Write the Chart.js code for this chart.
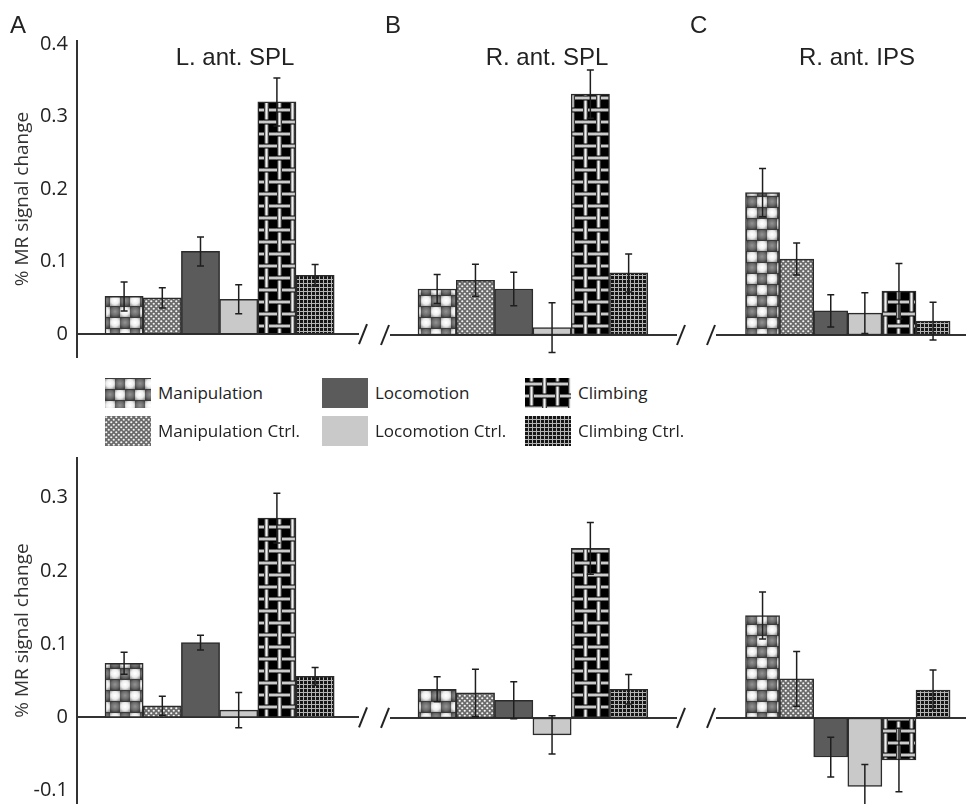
<!DOCTYPE html>
<html>
<head>
<title>MR signal change</title>
<script src="https://cdn.jsdelivr.net/npm/chart.js"></script>
<style>
  body { margin: 0; width: 966px; height: 804px; overflow: hidden; background: #fff; position: relative; color: #222; }
  canvas, .txt { position: absolute; }
  .head { font: 24px "Liberation Sans", Arial, sans-serif; line-height: 24px; white-space: nowrap; }
  .title { width: 300px; text-align: center; }
  .leg { font: 17px "Open Sans", sans-serif; line-height: 30px; height: 30px; white-space: nowrap; }
</style>
</head>
<body>
<script>
Chart.defaults.font.family = '"Open Sans", sans-serif';
Chart.defaults.color = '#222';

const conditions = ['Manipulation', 'Manipulation Ctrl.', 'Locomotion', 'Locomotion Ctrl.', 'Climbing', 'Climbing Ctrl.'];
const regions = ['L. ant. SPL', 'R. ant. SPL', 'R. ant. IPS'];
const panelLetters = ['A', 'B', 'C'];
const ticksTop = [0, 0.1, 0.2, 0.3, 0.4];
const ticksBottom = [-0.1, 0, 0.1, 0.2, 0.3];

// upper row
const lSplTop = [0.052, 0.050, 0.114, 0.048, 0.320, 0.081];
const lSplTopErr = [0.020, 0.014, 0.020, 0.020, 0.033, 0.015];
const rSplTop = [0.063, 0.075, 0.063, 0.010, 0.330, 0.085];
const rSplTopErr = [0.020, 0.022, 0.023, 0.034, 0.033, 0.026];
const rIpsTop = [0.195, 0.104, 0.033, 0.030, 0.060, 0.019];
const rIpsTopErr = [0.033, 0.022, 0.022, 0.028, 0.038, 0.026];

// lower row
const lSplBottom = [0.074, 0.016, 0.102, 0.010, 0.272, 0.056];
const lSplBottomErr = [0.015, 0.013, 0.010, 0.024, 0.034, 0.012];
const rSplBottom = [0.039, 0.034, 0.024, -0.023, 0.230, 0.039];
const rSplBottomErr = [0.017, 0.032, 0.025, 0.026, 0.035, 0.020];
const rIpsBottom = [0.139, 0.053, -0.053, -0.093, -0.057, 0.038];
const rIpsBottomErr = [0.032, 0.037, 0.027, 0.030, 0.043, 0.027];

// layout (pixels)
const cols = [
  { left: 77, right: 358, barLeft: 105, barWidth: 38.2, breakL: false, breakR: true },
  { left: 391, right: 676, barLeft: 418, barWidth: 38.3, breakL: true, breakR: true },
  { left: 717, right: 966, barLeft: 745.5, barWidth: 34.1, breakL: true, breakR: false }
];
const rows = [
  { top: 40, bottom: 358, min: -0.0315, max: 0.404, ticks: ticksTop },
  { top: 457, bottom: 804, min: -0.1167, max: 0.354, ticks: ticksBottom }
];

function tile(w, h, draw) {
  const c = document.createElement('canvas');
  c.width = w; c.height = h;
  draw(c.getContext('2d'));
  return c.getContext('2d').createPattern(c, 'repeat');
}

const manipPattern = tile(20, 22, g => {
  g.fillStyle = '#3c3c3c'; g.fillRect(0, 0, 20, 22);
  for (let r = 0; r < 2; r++) for (let k = 0; k < 2; k++) {
    const light = (r + k) % 2 === 0;
    const x = k * 10, y = r * 11;
    const gr = g.createRadialGradient(x + 5, y + 5.5, 0.5, x + 5, y + 5.5, 6.5);
    if (light) { gr.addColorStop(0, '#ffffff'); gr.addColorStop(0.55, '#ececec'); gr.addColorStop(1, '#9a9a9a'); }
    else { gr.addColorStop(0, '#8e8e8e'); gr.addColorStop(0.55, '#6c6c6c'); gr.addColorStop(1, '#3e3e3e'); }
    g.fillStyle = gr; g.fillRect(x, y + 1, 10, 10);
  }
});

const manipCtrlPattern = tile(5, 5, g => {
  g.fillStyle = '#6a6a6a'; g.fillRect(0, 0, 5, 5);
  g.fillStyle = '#f4f4f4';
  [[1.25, 1.25], [3.75, 3.75]].forEach(([x, y]) => { g.beginPath(); g.arc(x, y, 1.1, 0, Math.PI * 2); g.fill(); });
});

const climbPattern = tile(26, 24, g => {
  g.fillStyle = '#000'; g.fillRect(0, 0, 26, 24);
  const vx = [6.5, 19.5], hy = [6, 18];
  const vStrip = (x, y0, y1) => {
    const gr = g.createLinearGradient(x - 2, 0, x + 2, 0);
    gr.addColorStop(0, '#6a6a6a'); gr.addColorStop(0.5, '#f2f2f2'); gr.addColorStop(1, '#6a6a6a');
    g.fillStyle = gr; g.fillRect(x - 2, y0, 4, y1 - y0);
  };
  const hStrip = (y, x0, x1) => {
    const gr = g.createLinearGradient(0, y - 1.75, 0, y + 1.75);
    gr.addColorStop(0, '#6a6a6a'); gr.addColorStop(0.5, '#f2f2f2'); gr.addColorStop(1, '#6a6a6a');
    g.fillStyle = gr; g.fillRect(x0, y - 1.75, x1 - x0, 3.5);
  };
  hy.forEach(y => hStrip(y, 0, 26));
  vx.forEach(x => vStrip(x, 0, 24));
  vx.forEach((x, i) => hy.forEach((y, j) => {
    if ((i + j) % 2 === 0) {
      g.fillStyle = '#000'; g.fillRect(x - 3, y - 2.5, 6, 5);
      hStrip(y, x - 3.5, x + 3.5);
    } else {
      g.fillStyle = '#000'; g.fillRect(x - 2.5, y - 2.75, 5, 5.5);
      vStrip(x, y - 3, y + 3);
    }
  }));
});

const climbCtrlPattern = tile(4, 4, g => {
  g.fillStyle = '#161616'; g.fillRect(0, 0, 4, 4);
  g.fillStyle = '#b4b4b4'; g.fillRect(3, 0, 1, 4); g.fillRect(0, 3, 4, 1);
});

const fills = [manipPattern, manipCtrlPattern, '#5b5b5b', '#c9c9c9', climbPattern, climbCtrlPattern];

const errorBars = {
  id: 'errorBars',
  afterDatasetsDraw(chart) {
    const { ctx } = chart;
    const ds = chart.data.datasets[0];
    const y = chart.scales.y;
    ctx.save();
    ctx.strokeStyle = '#1e1e1e';
    ctx.lineWidth = 1.5;
    chart.getDatasetMeta(0).data.forEach((bar, i) => {
      const v = ds.data[i].y, e = ds.errors[i];
      const yt = y.getPixelForValue(v + e), yb = y.getPixelForValue(v - e);
      ctx.beginPath();
      ctx.moveTo(bar.x, yt); ctx.lineTo(bar.x, yb);
      ctx.moveTo(bar.x - 3.5, yt); ctx.lineTo(bar.x + 3.5, yt);
      ctx.moveTo(bar.x - 3.5, yb); ctx.lineTo(bar.x + 3.5, yb);
      ctx.stroke();
    });
    ctx.restore();
  }
};

const breakMarks = {
  id: 'breakMarks',
  afterDraw(chart, args, opts) {
    const { ctx, chartArea } = chart;
    const zy = chart.scales.y.getPixelForValue(0);
    ctx.save();
    ctx.strokeStyle = '#222';
    ctx.lineWidth = 2;
    const slash = cx => { ctx.beginPath(); ctx.moveTo(cx - 4, zy + 10); ctx.lineTo(cx + 4, zy - 10); ctx.stroke(); };
    if (opts.left) slash(chartArea.left - 6);
    if (opts.right) slash(chartArea.right + 5);
    ctx.restore();
  }
};

function panel(rowIdx, colIdx, values, errors) {
  const row = rows[rowIdx], col = cols[colIdx];
  const first = colIdx === 0;
  const padL = first ? 0 : 20;
  const cv = document.createElement('canvas');
  const left = first ? 0 : col.left - 20;
  cv.width = col.right + 20 - left;
  cv.height = row.bottom - row.top + 40;
  cv.style.left = left + 'px';
  cv.style.top = (row.top - 20) + 'px';
  document.body.appendChild(cv);

  const unit = col.barWidth;
  const xMin = 1 - (col.barLeft + unit / 2 - col.left) / unit;
  const xMax = xMin + (col.right - col.left) / unit;

  new Chart(cv, {
    type: 'bar',
    data: {
      datasets: [{
        label: regions[colIdx],
        data: values.map((v, i) => ({ x: i + 1, y: v })),
        errors: errors,
        backgroundColor: fills,
        borderColor: '#2b2b2b',
        borderWidth: 1.5,
        borderSkipped: false,
        categoryPercentage: 1,
        barPercentage: 1
      }]
    },
    options: {
      responsive: false,
      animation: false,
      layout: { padding: { left: padL, right: 20, top: 20, bottom: 20 } },
      plugins: {
        legend: { display: false },
        tooltip: { enabled: false },
        breakMarks: { left: col.breakL, right: col.breakR }
      },
      scales: {
        x: {
          type: 'linear', min: xMin, max: xMax, offset: false,
          position: { y: 0 },
          ticks: { display: false },
          grid: { display: false, drawTicks: false },
          border: { display: true, color: '#333', width: 2 }
        },
        y: {
          display: first,
          min: row.min, max: row.max,
          afterBuildTicks: s => { s.ticks = row.ticks.map(v => ({ value: v })); },
          afterFit: s => { if (first) s.width = col.left; },
          grid: { display: false, drawTicks: false },
          border: { display: true, color: '#333', width: 2 },
          ticks: { padding: 9, font: { size: 20 }, color: '#222', callback: v => v === 0 ? '0' : v.toFixed(1) },
          title: { display: true, text: '% MR signal change', font: { size: 19 }, color: '#333', padding: { top: 11 } }
        }
      }
    },
    plugins: [errorBars, breakMarks]
  });
}

panel(0, 0, lSplTop, lSplTopErr);
panel(0, 1, rSplTop, rSplTopErr);
panel(0, 2, rIpsTop, rIpsTopErr);
panel(1, 0, lSplBottom, lSplBottomErr);
panel(1, 1, rSplBottom, rSplBottomErr);
panel(1, 2, rIpsBottom, rIpsBottomErr);

// panel letters and region titles
const letterX = [10, 385, 690];
const titleX = [235, 547, 857];
panelLetters.forEach((t, i) => {
  const d = document.createElement('div');
  d.className = 'txt head';
  d.style.left = letterX[i] + 'px'; d.style.top = '13px';
  d.textContent = t;
  document.body.appendChild(d);
  const h = document.createElement('div');
  h.className = 'txt head title';
  h.style.left = (titleX[i] - 150) + 'px'; h.style.top = '45px';
  h.textContent = regions[i];
  document.body.appendChild(h);
});

// legend
const legSwatchX = [105, 322, 525];
const legRowY = [378, 416];
conditions.forEach((name, i) => {
  const c = Math.floor(i / 2), r = i % 2;
  const sw = document.createElement('canvas');
  sw.width = 46; sw.height = 30;
  sw.style.left = legSwatchX[c] + 'px'; sw.style.top = legRowY[r] + 'px';
  const g = sw.getContext('2d');
  g.fillStyle = fills[i]; g.fillRect(0, 0, 46, 30);
  document.body.appendChild(sw);
  const t = document.createElement('div');
  t.className = 'txt leg';
  t.style.left = (legSwatchX[c] + 53) + 'px'; t.style.top = legRowY[r] + 'px';
  t.textContent = name;
  document.body.appendChild(t);
});
</script>
</body>
</html>
